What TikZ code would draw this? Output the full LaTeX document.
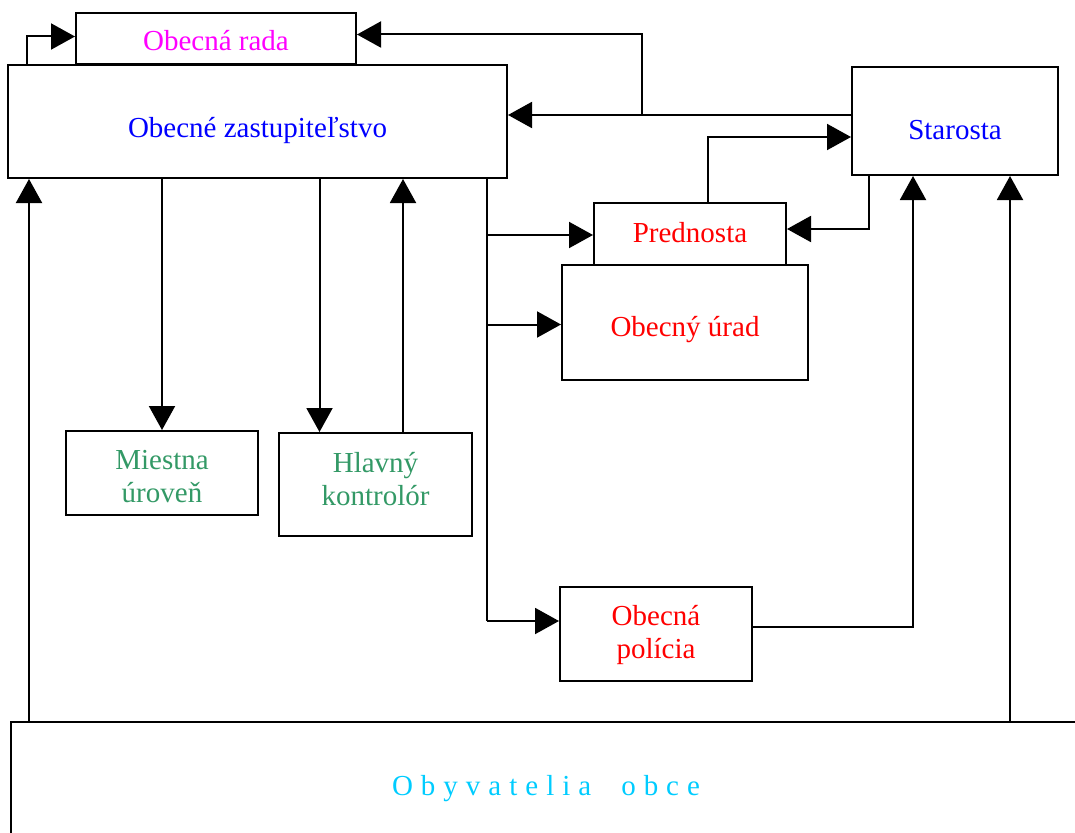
\documentclass[tikz,border=0pt]{standalone}
\usepackage{fontspec}
\setmainfont{Liberation Serif}
\usetikzlibrary{arrows.meta,calc}
\definecolor{cmag}{RGB}{255,0,255}
\definecolor{cblue}{RGB}{0,0,255}
\definecolor{cred}{RGB}{255,0,0}
\definecolor{cgreen}{RGB}{51,153,102}
\definecolor{ccyan}{RGB}{0,204,255}
\newcommand\lsp{\hspace{8pt}}
\begin{document}
\begin{tikzpicture}[x=1pt,y=-1pt,
  box/.style={draw,line width=2pt,inner sep=0pt},
  txt/.style={inner sep=0pt,align=center,font=\fontsize{29}{33}\selectfont},
  conn/.style={line width=2pt},
  arr/.style={line width=2pt,-{Triangle[length=24pt,width=26pt]}}]
\useasboundingbox (0,0) rectangle (1075,832);
% boxes
\node[box,minimum width=499pt,minimum height=113pt] (oz) at (257.5,121.5) {};
\node[box,minimum width=280pt,minimum height=51pt] (rada) at (216,38.5) {};
\node[box,minimum width=206pt,minimum height=108pt] (star) at (955,121) {};
\node[box,minimum width=192pt,minimum height=62pt] (pred) at (690,234) {};
\node[box,minimum width=246pt,minimum height=115pt] (ur) at (685,322.5) {};
\node[box,minimum width=192pt,minimum height=84pt] (mu) at (162,473) {};
\node[box,minimum width=193pt,minimum height=103pt] (hk) at (375.5,484.5) {};
\node[box,minimum width=192pt,minimum height=94pt] (pol) at (656,634) {};
\node[box,minimum width=1070pt,minimum height=126pt] (oby) at (546,785) {};
% texts
\node[txt,text=cblue] (ozt) at (257.5,131) {Obecné zastupiteľstvo};
\node[txt,text=cmag] (radat) at (216,41) {Obecná rada};
\node[txt,text=cblue] (start) at (955,130) {Starosta};
\node[txt,text=cred] (predt) at (690,233) {Prednosta};
\node[txt,text=cred] (urt) at (685,330) {Obecný úrad};
\node[txt,text=cgreen] (mut) at (162,477) {Miestna\\úroveň};
\node[txt,text=cgreen] (hkt) at (375.5,479) {Hlavný\\kontrolór};
\node[txt,text=cred] (polt) at (656,635) {Obecná\\polícia};
\node[txt,text=ccyan] (obyt) at (546,789)
  {O\lsp b\lsp y\lsp v\lsp a\lsp t\lsp e\lsp l\lsp i\lsp a\hspace{30pt}o\lsp b\lsp c\lsp e};
% connectors
\draw[arr] ([xshift=20pt]oz.north west) |- ([yshift=2pt]rada.west);
\draw[arr] ([yshift=6pt]star.west) -- ([yshift=6pt]star.west -| oz.east);
\coordinate (j1) at ([yshift=6pt]star.west -| 642,0);
\draw[arr] (j1) |- ([yshift=4pt]rada.east);
\draw[arr] ([xshift=18pt]pred.north) |- ([yshift=-16pt]star.west);
\draw[arr] ([xshift=18pt]star.south west) |- ([yshift=5pt]pred.east);
\coordinate (t0) at ([xshift=-21pt]oz.south east);
\coordinate (t1) at ([yshift=13pt]pol.west -| t0);
\draw[conn] (t0) -- (t1);
\draw[arr] ([yshift=-1pt]pred.west -| t0) -- ([yshift=-1pt]pred.west);
\draw[arr] ([yshift=-2pt]ur.west -| t0) -- ([yshift=-2pt]ur.west);
\draw[arr] (t1) -- ([yshift=13pt]pol.west);
\draw[arr] (mu.north |- oz.south) -- (mu.north);
\draw[arr] ([xshift=-56pt]hk.north |- oz.south) -- ([xshift=-56pt]hk.north);
\draw[arr] ([xshift=27.5pt]hk.north) -- ([xshift=27.5pt]hk.north |- oz.south);
\draw[arr] ([yshift=7pt]pol.east) -| ([xshift=-42pt]star.south);
\draw[arr] ([xshift=55pt]star.south |- oby.north) -- ([xshift=55pt]star.south);
\draw[arr] ([xshift=22pt]oz.south west |- oby.north) -- ([xshift=22pt]oz.south west);
\end{tikzpicture}
\end{document}
